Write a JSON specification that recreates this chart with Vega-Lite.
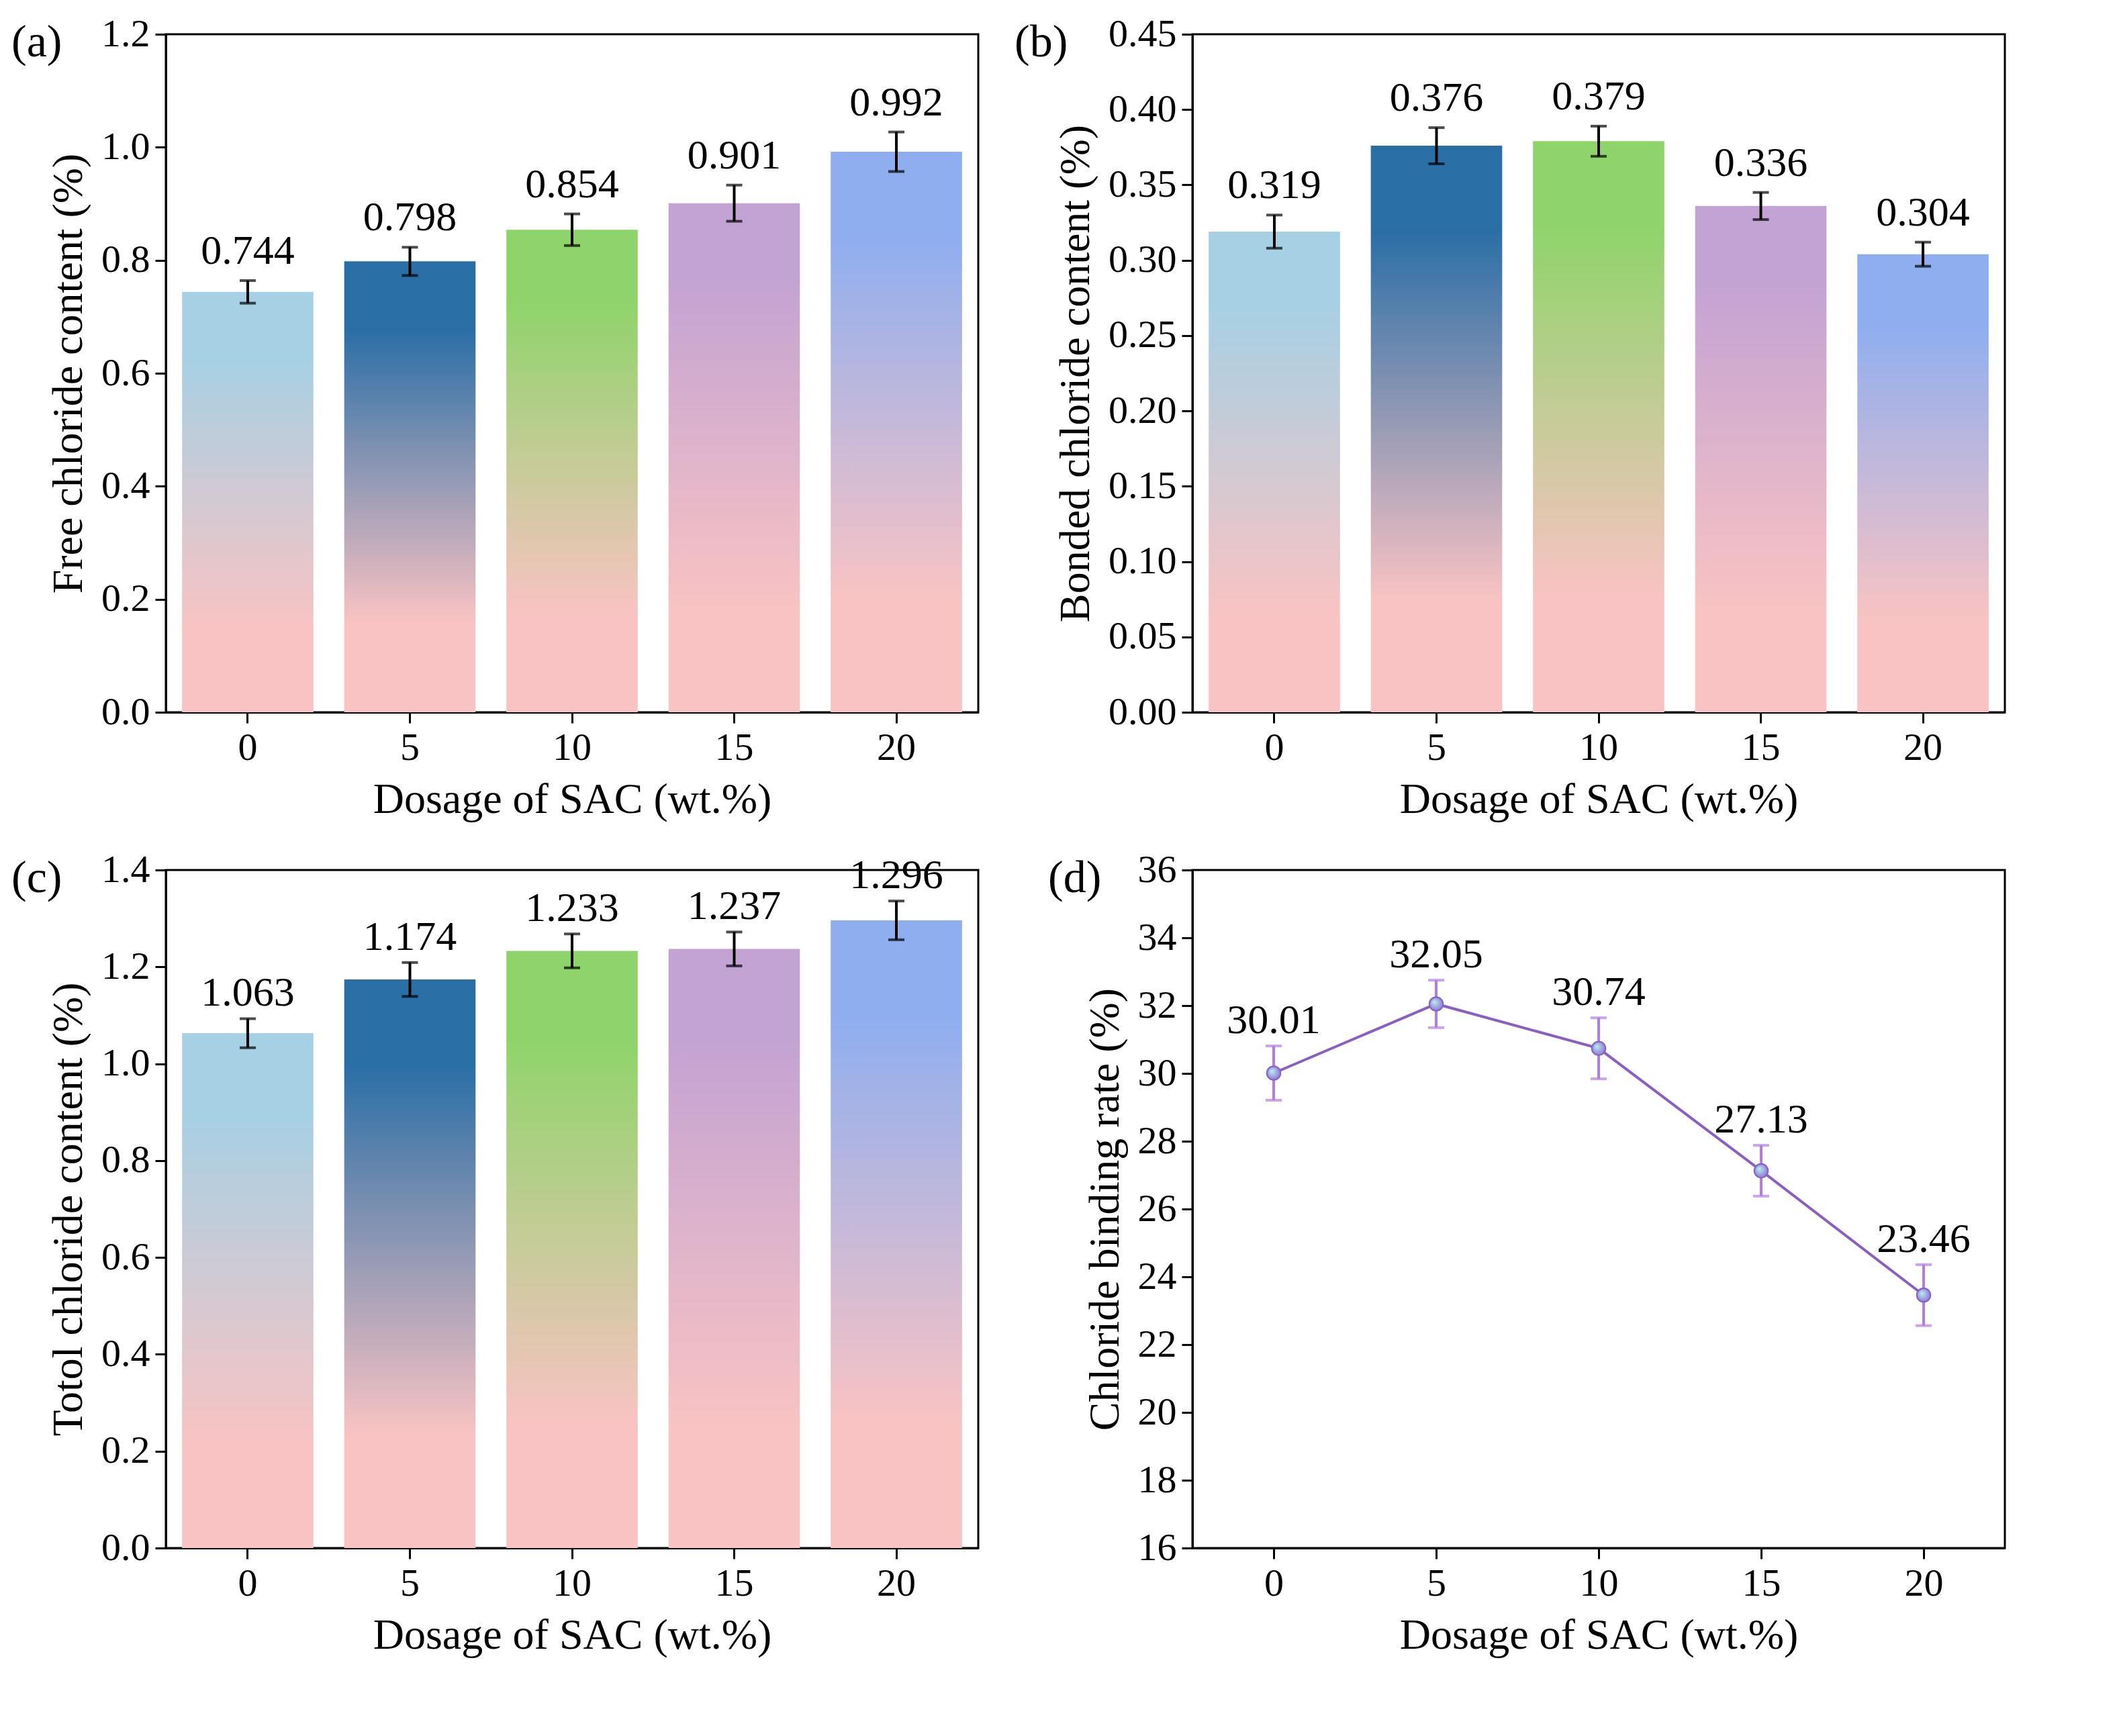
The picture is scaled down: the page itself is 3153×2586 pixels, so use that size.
{
  "$schema": "https://vega.github.io/schema/vega-lite/v6.json",
  "background": "white",
  "padding": {"left": 15, "top": 20, "right": 20, "bottom": 5},
  "datasets": {
    "a": [
      {"x": "0", "v": 0.744, "e": 0.02},
      {"x": "5", "v": 0.798, "e": 0.025},
      {"x": "10", "v": 0.854, "e": 0.028},
      {"x": "15", "v": 0.901, "e": 0.032},
      {"x": "20", "v": 0.992, "e": 0.035}
    ],
    "b": [
      {"x": "0", "v": 0.319, "e": 0.011},
      {"x": "5", "v": 0.376, "e": 0.012},
      {"x": "10", "v": 0.379, "e": 0.01},
      {"x": "15", "v": 0.336, "e": 0.009},
      {"x": "20", "v": 0.304, "e": 0.008}
    ],
    "c": [
      {"x": "0", "v": 1.063, "e": 0.03},
      {"x": "5", "v": 1.174, "e": 0.035},
      {"x": "10", "v": 1.233, "e": 0.035},
      {"x": "15", "v": 1.237, "e": 0.035},
      {"x": "20", "v": 1.296, "e": 0.04}
    ],
    "d": [
      {"x": 0, "v": 30.01, "e": 0.8},
      {"x": 5, "v": 32.05, "e": 0.7},
      {"x": 10, "v": 30.74, "e": 0.9},
      {"x": 15, "v": 27.13, "e": 0.75},
      {"x": 20, "v": 23.46, "e": 0.9}
    ]
  },
  "columns": 2,
  "spacing": {"column": 50, "row": 40},
  "concat": [
    {
      "width": 1210, "height": 1010,
      "title": {"text": "(a)", "anchor": "start", "frame": "group", "dx": -230, "dy": 80},
      "data": {"name": "a"},
      "encoding": {
        "x": {"field": "x", "type": "ordinal", "sort": null, "title": "Dosage of SAC (wt.%)", "scale": {"paddingInner": 0.19, "paddingOuter": 0.1}, "axis": {"labelAngle": 0}},
        "y": {"field": "v", "type": "quantitative", "title": "Free chloride content (%)", "scale": {"domain": [0, 1.2], "nice": false}, "axis": {"values": [0, 0.2, 0.4, 0.6, 0.8, 1.0, 1.2], "format": ".1f"}}
      },
      "layer": [
        {"transform": [{"filter": "datum.x=='0'"}], "mark": {"type": "bar", "fill": {"gradient": "linear", "x1": 0, "y1": 0, "x2": 0, "y2": 1, "stops": [{"offset": 0, "color": "#a6d0e4"}, {"offset": 0.15, "color": "#a6d0e4"}, {"offset": 0.8, "color": "#f9c3c3"}, {"offset": 1, "color": "#f9c3c3"}]}}},
        {"transform": [{"filter": "datum.x=='5'"}], "mark": {"type": "bar", "fill": {"gradient": "linear", "x1": 0, "y1": 0, "x2": 0, "y2": 1, "stops": [{"offset": 0, "color": "#2a6ea6"}, {"offset": 0.15, "color": "#2a6ea6"}, {"offset": 0.8, "color": "#f9c3c3"}, {"offset": 1, "color": "#f9c3c3"}]}}},
        {"transform": [{"filter": "datum.x=='10'"}], "mark": {"type": "bar", "fill": {"gradient": "linear", "x1": 0, "y1": 0, "x2": 0, "y2": 1, "stops": [{"offset": 0, "color": "#8fd46a"}, {"offset": 0.15, "color": "#8fd46a"}, {"offset": 0.8, "color": "#f9c3c3"}, {"offset": 1, "color": "#f9c3c3"}]}}},
        {"transform": [{"filter": "datum.x=='15'"}], "mark": {"type": "bar", "fill": {"gradient": "linear", "x1": 0, "y1": 0, "x2": 0, "y2": 1, "stops": [{"offset": 0, "color": "#c3a3d3"}, {"offset": 0.15, "color": "#c3a3d3"}, {"offset": 0.8, "color": "#f9c3c3"}, {"offset": 1, "color": "#f9c3c3"}]}}},
        {"transform": [{"filter": "datum.x=='20'"}], "mark": {"type": "bar", "fill": {"gradient": "linear", "x1": 0, "y1": 0, "x2": 0, "y2": 1, "stops": [{"offset": 0, "color": "#8eaef0"}, {"offset": 0.15, "color": "#8eaef0"}, {"offset": 0.8, "color": "#f9c3c3"}, {"offset": 1, "color": "#f9c3c3"}]}}},
        {"mark": {"type": "errorbar", "ticks": {"size": 24}, "color": "black", "thickness": 4}, "encoding": {"yError": {"field": "e"}}},
        {"transform": [{"calculate": "datum.v+datum.e", "as": "top"}], "mark": {"type": "text", "baseline": "bottom", "dy": -12, "fontSize": 62}, "encoding": {"y": {"field": "top", "type": "quantitative"}, "text": {"field": "v", "format": ".3f"}}}
      ]
    },
    {
      "width": 1210, "height": 1010,
      "title": {"text": "(b)", "anchor": "start", "frame": "group", "dx": -265, "dy": 80},
      "data": {"name": "b"},
      "encoding": {
        "x": {"field": "x", "type": "ordinal", "sort": null, "title": "Dosage of SAC (wt.%)", "scale": {"paddingInner": 0.19, "paddingOuter": 0.1}, "axis": {"labelAngle": 0}},
        "y": {"field": "v", "type": "quantitative", "title": "Bonded chloride content (%)", "scale": {"domain": [0, 0.45], "nice": false}, "axis": {"values": [0, 0.05, 0.1, 0.15, 0.2, 0.25, 0.3, 0.35, 0.4, 0.45], "format": ".2f"}}
      },
      "layer": [
        {"transform": [{"filter": "datum.x=='0'"}], "mark": {"type": "bar", "fill": {"gradient": "linear", "x1": 0, "y1": 0, "x2": 0, "y2": 1, "stops": [{"offset": 0, "color": "#a6d0e4"}, {"offset": 0.15, "color": "#a6d0e4"}, {"offset": 0.8, "color": "#f9c3c3"}, {"offset": 1, "color": "#f9c3c3"}]}}},
        {"transform": [{"filter": "datum.x=='5'"}], "mark": {"type": "bar", "fill": {"gradient": "linear", "x1": 0, "y1": 0, "x2": 0, "y2": 1, "stops": [{"offset": 0, "color": "#2a6ea6"}, {"offset": 0.15, "color": "#2a6ea6"}, {"offset": 0.8, "color": "#f9c3c3"}, {"offset": 1, "color": "#f9c3c3"}]}}},
        {"transform": [{"filter": "datum.x=='10'"}], "mark": {"type": "bar", "fill": {"gradient": "linear", "x1": 0, "y1": 0, "x2": 0, "y2": 1, "stops": [{"offset": 0, "color": "#8fd46a"}, {"offset": 0.15, "color": "#8fd46a"}, {"offset": 0.8, "color": "#f9c3c3"}, {"offset": 1, "color": "#f9c3c3"}]}}},
        {"transform": [{"filter": "datum.x=='15'"}], "mark": {"type": "bar", "fill": {"gradient": "linear", "x1": 0, "y1": 0, "x2": 0, "y2": 1, "stops": [{"offset": 0, "color": "#c3a3d3"}, {"offset": 0.15, "color": "#c3a3d3"}, {"offset": 0.8, "color": "#f9c3c3"}, {"offset": 1, "color": "#f9c3c3"}]}}},
        {"transform": [{"filter": "datum.x=='20'"}], "mark": {"type": "bar", "fill": {"gradient": "linear", "x1": 0, "y1": 0, "x2": 0, "y2": 1, "stops": [{"offset": 0, "color": "#8eaef0"}, {"offset": 0.15, "color": "#8eaef0"}, {"offset": 0.8, "color": "#f9c3c3"}, {"offset": 1, "color": "#f9c3c3"}]}}},
        {"mark": {"type": "errorbar", "ticks": {"size": 24}, "color": "black", "thickness": 4}, "encoding": {"yError": {"field": "e"}}},
        {"transform": [{"calculate": "datum.v+datum.e", "as": "top"}], "mark": {"type": "text", "baseline": "bottom", "dy": -12, "fontSize": 62}, "encoding": {"y": {"field": "top", "type": "quantitative"}, "text": {"field": "v", "format": ".3f"}}}
      ]
    },
    {
      "width": 1210, "height": 1010,
      "title": {"text": "(c)", "anchor": "start", "frame": "group", "dx": -230, "dy": 80},
      "data": {"name": "c"},
      "encoding": {
        "x": {"field": "x", "type": "ordinal", "sort": null, "title": "Dosage of SAC (wt.%)", "scale": {"paddingInner": 0.19, "paddingOuter": 0.1}, "axis": {"labelAngle": 0}},
        "y": {"field": "v", "type": "quantitative", "title": "Totol chloride content (%)", "scale": {"domain": [0, 1.4], "nice": false}, "axis": {"values": [0, 0.2, 0.4, 0.6, 0.8, 1.0, 1.2, 1.4], "format": ".1f"}}
      },
      "layer": [
        {"transform": [{"filter": "datum.x=='0'"}], "mark": {"type": "bar", "fill": {"gradient": "linear", "x1": 0, "y1": 0, "x2": 0, "y2": 1, "stops": [{"offset": 0, "color": "#a6d0e4"}, {"offset": 0.15, "color": "#a6d0e4"}, {"offset": 0.8, "color": "#f9c3c3"}, {"offset": 1, "color": "#f9c3c3"}]}}},
        {"transform": [{"filter": "datum.x=='5'"}], "mark": {"type": "bar", "fill": {"gradient": "linear", "x1": 0, "y1": 0, "x2": 0, "y2": 1, "stops": [{"offset": 0, "color": "#2a6ea6"}, {"offset": 0.15, "color": "#2a6ea6"}, {"offset": 0.8, "color": "#f9c3c3"}, {"offset": 1, "color": "#f9c3c3"}]}}},
        {"transform": [{"filter": "datum.x=='10'"}], "mark": {"type": "bar", "fill": {"gradient": "linear", "x1": 0, "y1": 0, "x2": 0, "y2": 1, "stops": [{"offset": 0, "color": "#8fd46a"}, {"offset": 0.15, "color": "#8fd46a"}, {"offset": 0.8, "color": "#f9c3c3"}, {"offset": 1, "color": "#f9c3c3"}]}}},
        {"transform": [{"filter": "datum.x=='15'"}], "mark": {"type": "bar", "fill": {"gradient": "linear", "x1": 0, "y1": 0, "x2": 0, "y2": 1, "stops": [{"offset": 0, "color": "#c3a3d3"}, {"offset": 0.15, "color": "#c3a3d3"}, {"offset": 0.8, "color": "#f9c3c3"}, {"offset": 1, "color": "#f9c3c3"}]}}},
        {"transform": [{"filter": "datum.x=='20'"}], "mark": {"type": "bar", "fill": {"gradient": "linear", "x1": 0, "y1": 0, "x2": 0, "y2": 1, "stops": [{"offset": 0, "color": "#8eaef0"}, {"offset": 0.15, "color": "#8eaef0"}, {"offset": 0.8, "color": "#f9c3c3"}, {"offset": 1, "color": "#f9c3c3"}]}}},
        {"mark": {"type": "errorbar", "ticks": {"size": 24}, "color": "black", "thickness": 4}, "encoding": {"yError": {"field": "e"}}},
        {"transform": [{"calculate": "datum.v+datum.e", "as": "top"}], "mark": {"type": "text", "baseline": "bottom", "dy": -6, "fontSize": 62}, "encoding": {"y": {"field": "top", "type": "quantitative"}, "text": {"field": "v", "format": ".3f"}}}
      ]
    },
    {
      "width": 1210, "height": 1010,
      "title": {"text": "(d)", "anchor": "start", "frame": "group", "dx": -215, "dy": 80},
      "data": {"name": "d"},
      "encoding": {
        "x": {"field": "x", "type": "quantitative", "title": "Dosage of SAC (wt.%)", "scale": {"domain": [-2.5, 22.5], "nice": false, "zero": false}, "axis": {"values": [0, 5, 10, 15, 20]}},
        "y": {"field": "v", "type": "quantitative", "title": "Chloride binding rate (%)", "scale": {"domain": [16, 36], "nice": false, "zero": false}, "axis": {"values": [16, 18, 20, 22, 24, 26, 28, 30, 32, 34, 36]}}
      },
      "layer": [
        {"mark": {"type": "line", "color": "#8a5ec4", "strokeWidth": 4}},
        {"mark": {"type": "errorbar", "ticks": {"size": 24}, "color": "#b57ae6", "thickness": 4}, "encoding": {"yError": {"field": "e"}}},
        {"mark": {"type": "point", "filled": true, "size": 420, "opacity": 1, "fill": {"gradient": "radial", "x1": 0.35, "y1": 0.35, "r1": 0, "x2": 0.5, "y2": 0.5, "r2": 0.6, "stops": [{"offset": 0, "color": "#b8f0f0"}, {"offset": 1, "color": "#8a6ad0"}]}, "stroke": "#8a5ec4", "strokeWidth": 2}},
        {"transform": [{"calculate": "datum.v+datum.e", "as": "top"}], "mark": {"type": "text", "baseline": "bottom", "dy": -6, "fontSize": 62}, "encoding": {"y": {"field": "top", "type": "quantitative"}, "text": {"field": "v", "format": ".2f"}}}
      ]
    }
  ],
  "config": {
    "font": "Liberation Serif",
    "view": {"stroke": "black", "strokeWidth": 3},
    "title": {"fontSize": 68, "fontWeight": "normal", "color": "black"},
    "text": {"font": "Liberation Serif", "color": "black"},
    "axis": {
      "grid": false,
      "domainColor": "black", "domainWidth": 3,
      "tickColor": "black", "tickWidth": 3, "tickSize": 16,
      "labelFontSize": 58, "labelColor": "black", "labelPadding": 8,
      "titleFontSize": 64, "titleFontWeight": "normal", "titleColor": "black", "titlePadding": 16
    }
  }
}
